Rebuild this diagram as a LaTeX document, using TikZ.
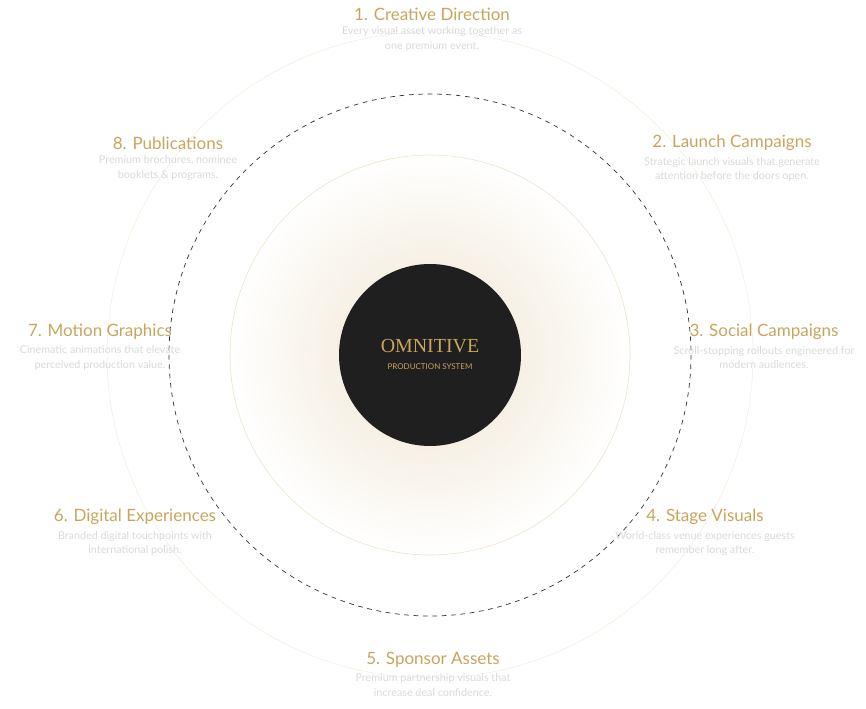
\documentclass[tikz,border=0pt]{standalone}
\usepackage{fontspec}
\setmainfont{Lato}
\newfontfamily\logofont{Liberation Serif}
\usetikzlibrary{positioning}
\definecolor{gold}{HTML}{C9A45C}
\definecolor{paletext}{HTML}{D9D9D9}
\definecolor{ringgold}{HTML}{EFE2C6}
\tikzset{
  steptitle/.style={text=gold, font=\fontsize{14.5}{16}\selectfont, inner sep=0pt},
  stepdesc/.style={text=paletext, font=\fontsize{9.2}{12.6}\selectfont, align=center, inner sep=0pt},
}
\begin{document}
\begin{tikzpicture}[x=0.03cm,y=-0.03cm]
  \useasboundingbox (0,0) rectangle (866,709);
  \coordinate (c) at (430,355);
  % glow and rings
  \shade[inner color=gold!30!white, outer color=white] (c) circle[radius=200];
  \draw[ringgold!70, line width=0.4pt] (c) circle[radius=323];
  \draw[ringgold, line width=0.5pt] (c) circle[radius=200];
  \draw[black!80, dash pattern=on 4pt off 4pt, line width=0.6pt] (c) circle[radius=261];
  \fill[black!88] (c) circle[radius=91];
  \node[text=gold, font=\logofont\fontsize{17}{18}\selectfont] (logo) at (430,346) {OMNITIVE};
  \node[text=gold, font=\fontsize{6.8}{8}\selectfont, below=2pt of logo] (sys) {PRODUCTION SYSTEM};
  % steps
  \foreach \i/\x/\y/\t/\d in {
    1/432/14/{1. Creative Direction}/{Every visual asset working together as\\one premium event.},
    2/732/143/{2. Launch Campaigns}/{Strategic launch visuals that generate\\attention before the doors open.},
    3/764/332/{3. Social Campaigns}/{Scroll-stopping rollouts engineered for\\modern audiences.},
    4/705/517/{4. Stage Visuals}/{World-class venue experiences guests\\remember long after.},
    5/433/660/{5. Sponsor Assets}/{Premium partnership visuals that\\increase deal confidence.},
    6/135/517/{6. Digital Experiences}/{Branded digital touchpoints with\\international polish.},
    7/100/332/{7. Motion Graphics}/{Cinematic animations that elevate\\perceived production value.},
    8/168/143/{8. Publications}/{Premium brochures, nominee\\booklets \& programs.}} {
    \node[steptitle] (t\i) at (\x,\y) {\t};
    \node[stepdesc, below=5pt of t\i] (d\i) {\d};
  }
\end{tikzpicture}
\end{document}
